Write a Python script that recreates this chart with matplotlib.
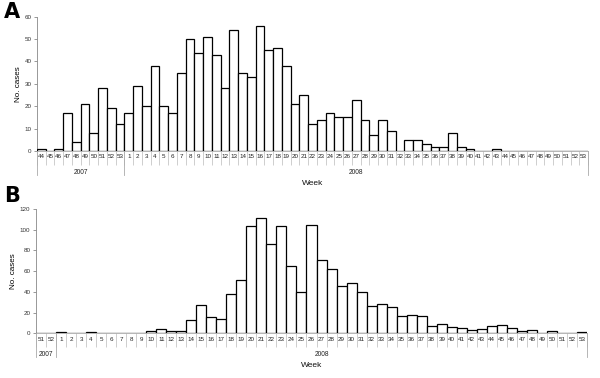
import matplotlib
matplotlib.use("Agg")
import matplotlib.pyplot as plt
import matplotlib.transforms as mtransforms
import numpy as np

plt.rcParams['font.family'] = ['Liberation Sans', 'DejaVu Sans']

# Panel A data
a_weeks_2007 = [44, 45, 46, 47, 48, 49, 50, 51, 52, 53]
a_weeks_2008 = list(range(1, 54))
a_cases = [1, 0, 1, 17, 4, 21, 8, 28, 19, 12,
           17, 29, 20, 38, 20, 17, 35, 50, 44, 51, 43, 28, 54, 35, 33, 56, 45, 46, 38, 21,
           25, 12, 14, 17, 15, 15, 23, 14, 7, 14, 9, 0, 5, 5, 3, 2, 2, 8, 2, 1,
           0, 0, 1, 0, 0, 0, 0, 0, 0, 0, 0, 0, 0]

# Panel B data
b_weeks_2007 = [51, 52]
b_weeks_2008 = list(range(1, 54))
b_cases = [0, 0,
           1, 0, 0, 1, 0, 0, 0, 0, 0, 2, 4, 2, 2, 13, 27, 16, 14, 38, 51,
           104, 111, 86, 104, 65, 40, 105, 71, 62, 46, 49, 40, 26, 28, 25, 17, 18, 17,
           7, 9, 6, 5, 3, 4, 7, 8, 5, 2, 3, 0, 2, 0, 0, 1]

years = ["2007", "2008"]

fig = plt.figure(figsize=(6, 3.78), dpi=100)

def draw_panel(rect, weeks07, weeks08, cases, ymax, ystep, letter, letter_y):
    ax = fig.add_axes(rect)
    labels = [str(w) for w in weeks07 + weeks08]
    n = len(labels)
    x = np.arange(n)
    ax.bar(x, cases, width=1.0, color='white', edgecolor='black', linewidth=0.9, zorder=3)
    ax.set_xlim(-0.5, n - 0.5)
    ax.set_ylim(0, ymax)
    ax.set_yticks(np.arange(0, ymax + 1, ystep))
    ax.tick_params(axis='y', labelsize=4.5, length=2, width=0.6, color='#888888',
                   labelcolor='#333333', pad=2)
    ax.set_xticks(x)
    ax.set_xticklabels(labels)
    ax.tick_params(axis='x', which='major', length=0, labelsize=4.5, pad=2.5, labelcolor='#222222')
    ax.set_xticks(np.arange(-0.5, n, 1.0), minor=True)
    ax.tick_params(axis='x', which='minor', length=10, width=0.5, color='#bbbbbb', direction='out')
    for s in ['top', 'right']:
        ax.spines[s].set_visible(False)
    ax.spines['left'].set_color('#888888')
    ax.spines['left'].set_linewidth(0.6)
    ax.spines['bottom'].set_color('#aaaaaa')
    ax.spines['bottom'].set_linewidth(0.6)
    ax.set_ylabel("No. cases", fontsize=5.8, labelpad=2)

    trans = mtransforms.blended_transform_factory(ax.transData, ax.transAxes)
    h_px = rect[3] * 378
    depth = -24.0 / h_px
    n07 = len(weeks07)
    for b in [-0.5, n07 - 0.5, n - 0.5]:
        ax.plot([b, b], [0, depth], transform=trans, color='#aaaaaa', lw=0.6, clip_on=False)
    ypos = -21.0 / h_px
    ax.text((n07 - 1) / 2.0, ypos, years[0], transform=trans, ha='center', va='center',
            fontsize=4.8, color='#222222')
    ax.text(n07 + (len(weeks08) - 1) / 2.0, ypos, years[1], transform=trans, ha='center',
            va='center', fontsize=4.8, color='#222222')
    ax.text(0.5, -32.0 / h_px, "Week", transform=ax.transAxes, ha='center', va='center',
            fontsize=6, color='#111111')
    fig.text(4 / 600, 1 - letter_y / 378, letter, fontsize=15, fontweight='heavy',
             family='DejaVu Sans', ha='left', va='center')
    return ax

draw_panel([37 / 600, 1 - 151 / 378, (588 - 37) / 600, (151 - 16.7) / 378],
           a_weeks_2007, a_weeks_2008, a_cases, 60, 10, "A", 12)
draw_panel([36 / 600, 1 - 333.3 / 378, (587 - 36) / 600, (333.3 - 209) / 378],
           b_weeks_2007, b_weeks_2008, b_cases, 120, 20, "B", 196)

fig.savefig("out.png", dpi=100)
